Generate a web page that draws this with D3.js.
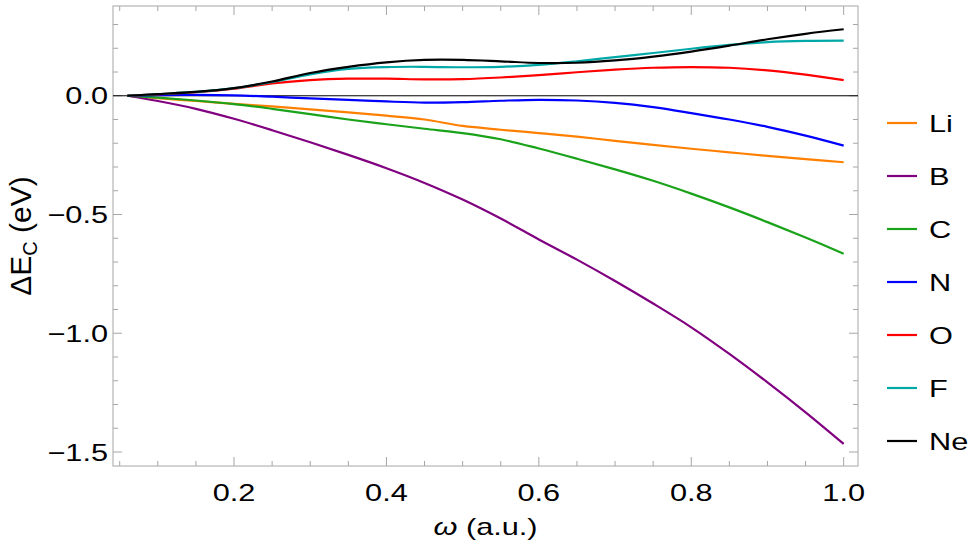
<!DOCTYPE html>
<html>
<head>
<meta charset="utf-8">
<script src="https://cdn.jsdelivr.net/npm/d3@7"></script>
<style>
  body { margin: 0; background: #fff; }
  svg text { font-family: "Liberation Sans", Arial, sans-serif; fill: #000; }
</style>
</head>
<body>
<svg id="chart" width="978" height="559"></svg>
<script>
// data
const omega = [0.06, 0.1, 0.15, 0.2, 0.25, 0.3, 0.35, 0.4, 0.45, 0.5, 0.55, 0.6, 0.65, 0.7, 0.75, 0.8, 0.85, 0.9, 0.95, 1.0];

const li = [0, -0.01, -0.022, -0.034, -0.045, -0.057, -0.07, -0.084, -0.1, -0.127, -0.143, -0.157, -0.172, -0.19, -0.207, -0.223, -0.238, -0.253, -0.267, -0.28];
const b  = [0, -0.022, -0.055, -0.097, -0.145, -0.196, -0.249, -0.305, -0.367, -0.437, -0.517, -0.605, -0.69, -0.78, -0.875, -0.975, -1.087, -1.207, -1.333, -1.466];
const c  = [0, -0.008, -0.02, -0.035, -0.055, -0.077, -0.1, -0.12, -0.139, -0.157, -0.183, -0.222, -0.265, -0.31, -0.358, -0.412, -0.47, -0.532, -0.597, -0.665];
const n  = [0, 0.003, 0.004, 0.002, -0.004, -0.011, -0.017, -0.024, -0.029, -0.027, -0.021, -0.017, -0.02, -0.03, -0.048, -0.073, -0.1, -0.131, -0.168, -0.21];
const o  = [0, 0.006, 0.015, 0.03, 0.052, 0.066, 0.072, 0.072, 0.069, 0.07, 0.077, 0.087, 0.099, 0.11, 0.118, 0.121, 0.118, 0.107, 0.089, 0.066];
const f  = [0, 0.007, 0.016, 0.032, 0.058, 0.09, 0.113, 0.121, 0.122, 0.12, 0.122, 0.13, 0.145, 0.163, 0.18, 0.198, 0.214, 0.226, 0.231, 0.232];
const ne = [0, 0.007, 0.016, 0.032, 0.06, 0.096, 0.122, 0.141, 0.151, 0.151, 0.145, 0.138, 0.139, 0.149, 0.165, 0.186, 0.211, 0.238, 0.261, 0.28];

const names = ["Li", "B", "C", "N", "O", "F", "Ne"];
const colors = ["#ff8000", "#800080", "#1aa31a", "#0000ff", "#ff0000", "#00a8a8", "#000000"];
const series = [li, b, c, n, o, f, ne];

const xTicks = [0.2, 0.4, 0.6, 0.8, 1.0];
const yTicks = [0.0, -0.5, -1.0, -1.5];

const svg = d3.select("#chart");
const plotLeft = 113, plotRight = 858, plotTop = 6, plotBottom = 466;

const x = d3.scaleLinear().domain([0.0412, 1.0188]).range([plotLeft, plotRight]);
const y = d3.scaleLinear().domain([-1.559, 0.378]).range([plotBottom, plotTop]);

const frameColor = "#a6a6a6";
const stretch = 1.28; // the text in the figure is drawn wide

// minor / major ticks on all four sides
const xMinor = d3.range(0.05, 1.0001, 0.05);
const yMinor = d3.range(-1.5, 0.3501, 0.1).map(v => Math.round(v * 10) / 10);

const ticks = svg.append("g").attr("stroke", frameColor).attr("stroke-width", 1);
xMinor.forEach(v => {
  const major = xTicks.some(t => Math.abs(t - v) < 1e-6);
  const len = major ? 9 : 5;
  ticks.append("line").attr("x1", x(v)).attr("x2", x(v)).attr("y1", plotBottom).attr("y2", plotBottom - len);
  ticks.append("line").attr("x1", x(v)).attr("x2", x(v)).attr("y1", plotTop).attr("y2", plotTop + len);
});
yMinor.forEach(v => {
  const major = yTicks.some(t => Math.abs(t - v) < 1e-6);
  const len = major ? 9 : 5;
  ticks.append("line").attr("x1", plotLeft).attr("x2", plotLeft + len).attr("y1", y(v)).attr("y2", y(v));
  ticks.append("line").attr("x1", plotRight).attr("x2", plotRight - len).attr("y1", y(v)).attr("y2", y(v));
});

// frame
svg.append("rect")
  .attr("x", plotLeft).attr("y", plotTop)
  .attr("width", plotRight - plotLeft).attr("height", plotBottom - plotTop)
  .attr("fill", "none").attr("stroke", frameColor).attr("stroke-width", 1);

// zero line
svg.append("line")
  .attr("x1", plotLeft).attr("x2", plotRight)
  .attr("y1", y(0)).attr("y2", y(0))
  .attr("stroke", "#000").attr("stroke-width", 1);

// tick labels
svg.append("g").selectAll("text")
  .data(xTicks)
  .enter()
  .append("text")
  .attr("transform", d => `translate(${x(d)},${plotBottom + 35}) scale(${stretch},1)`)
  .attr("text-anchor", "middle")
  .style("font-size", "24px")
  .text(d => d.toFixed(1));

svg.append("g").selectAll("text")
  .data(yTicks)
  .enter()
  .append("text")
  .attr("transform", d => `translate(${plotLeft - 5},${y(d)}) scale(${stretch},1)`)
  .attr("dy", "0.36em")
  .attr("text-anchor", "end")
  .style("font-size", "24px")
  .text(d => d === 0 ? "0.0" : "\u2212" + Math.abs(d).toFixed(1));

// curves
const line = d3.line()
  .x((d, i) => x(omega[i]))
  .y(d => y(d))
  .curve(d3.curveCatmullRom);

svg.append("g").selectAll("path")
  .data(series)
  .enter()
  .append("path")
  .attr("d", d => line(d))
  .attr("fill", "none")
  .attr("stroke", (d, i) => colors[i])
  .attr("stroke-width", 2.2);

// axis titles
const xt = svg.append("text")
  .attr("transform", `translate(${(plotLeft + plotRight) / 2},535) scale(${stretch},1)`)
  .attr("text-anchor", "middle")
  .style("font-size", "24px");
xt.append("tspan").style("font-style", "italic").text("\u03c9");
xt.append("tspan").text(" (a.u.)");

const yt = svg.append("text")
  .attr("transform", `translate(31,${(plotTop + plotBottom) / 2}) rotate(-90)`)
  .attr("text-anchor", "middle")
  .style("font-size", "30px");
yt.append("tspan").text("\u0394E");
yt.append("tspan").attr("dy", 6).style("font-size", "20px").text("C");
yt.append("tspan").attr("dy", -6).text(" (eV)");

// legend
const legend = svg.append("g").selectAll("g")
  .data(names)
  .enter()
  .append("g")
  .attr("transform", (d, i) => `translate(887,${123 + i * 53})`);

legend.append("line")
  .attr("x1", 0).attr("x2", 30)
  .attr("stroke", (d, i) => colors[i])
  .attr("stroke-width", 2.2);

legend.append("text")
  .attr("transform", `translate(42,0) scale(${stretch},1)`)
  .attr("dy", "0.36em")
  .style("font-size", "24px")
  .text(d => d);
</script>
</body>
</html>
